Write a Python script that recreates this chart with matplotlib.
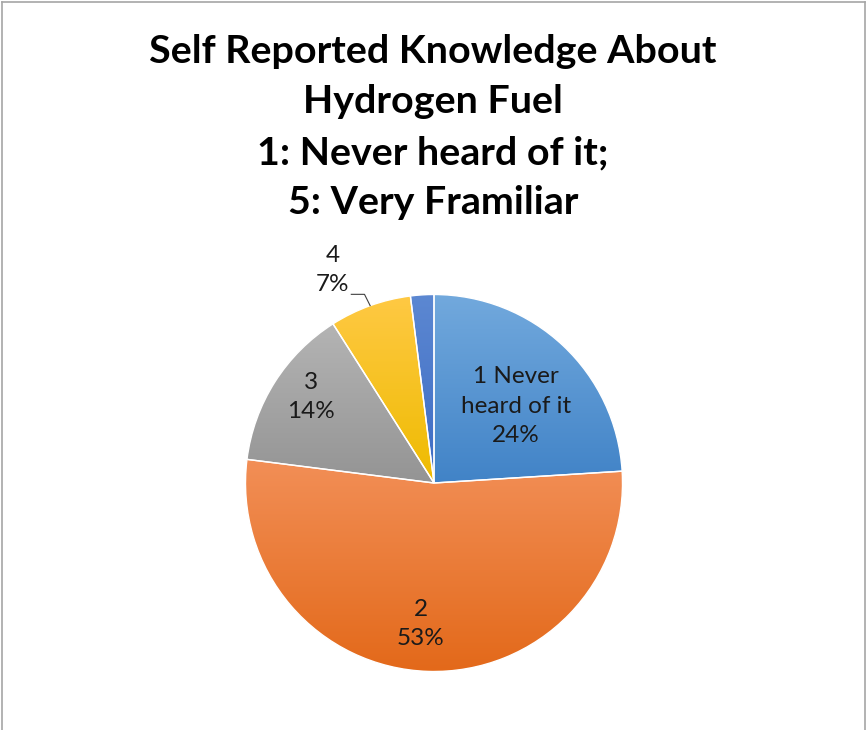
import numpy as np
import matplotlib
matplotlib.use("Agg")
import matplotlib.pyplot as plt
from matplotlib.colors import LinearSegmentedColormap
from matplotlib.lines import Line2D

plt.rcParams['font.family'] = ['Lato', 'DejaVu Sans']

title_lines = ["Self Reported Knowledge About", "Hydrogen Fuel",
               "1: Never heard of it;", "5: Very Framiliar"]
categories = ["1 Never\nheard of it", "2", "3", "4", "5"]
shares = [24, 53, 14, 7, 2]
show_label = [True, True, True, True, False]

# light (top) -> dark (bottom) gradient per slice
grad_top = ["#72A9DD", "#F28F57", "#B4B4B4", "#FFC944", "#5C88D2"]
grad_bottom = ["#4183C7", "#E3691A", "#949494", "#EEBB00", "#3D6BC3"]

# label centres in pie units (radius = 1)
label_pos = [(0.435, 0.408), (-0.069, -0.748), (-0.653, 0.456), (-0.536, 1.13), None]

W, H = 866, 730
fig = plt.figure(figsize=(W / 100, H / 100), dpi=100)

# pie box: x 245.5..622.5, y 294.5..671.5 (pixels from top)
ax = fig.add_axes([245.5 / W, (H - 671.5) / H, 377 / W, 377 / H])
wedges, _ = ax.pie(shares, startangle=90, counterclock=False, radius=1,
                   wedgeprops=dict(edgecolor="white", linewidth=1.0))

for w, c0, c1 in zip(wedges, grad_top, grad_bottom):
    bb = w.get_path().get_extents()
    cmap = LinearSegmentedColormap.from_list("g", [c0, c1])
    grad = np.linspace(0, 1, 256).reshape(-1, 1)
    im = ax.imshow(grad, cmap=cmap, extent=[bb.x0, bb.x1, bb.y0, bb.y1], origin="upper",
                   aspect="auto", interpolation="bilinear", zorder=w.get_zorder() - 0.1)
    im.set_clip_path(w)
    w.set_facecolor("none")

ax.set_xlim(-1, 1)
ax.set_ylim(-1, 1)
ax.set_aspect("equal")
ax.axis("off")

total = sum(shares)
for i, w in enumerate(wedges):
    if not show_label[i]:
        continue
    pct = round(100 * shares[i] / total)
    x, y = label_pos[i]
    ax.text(x, y, f"{categories[i]}\n{pct}%", ha="center", va="center",
            fontsize=17.5, color="#1a1a1a", linespacing=1.5, clip_on=False)

# leader line for the small slice labelled outside
w4 = wedges[3]
mid = np.deg2rad((w4.theta1 + w4.theta2) / 2)
p0 = np.array([np.cos(mid), np.sin(mid)])
elbow = p0 + np.array([-0.03, 0.06])
end = elbow + np.array([-0.07, 0.0])
ax.add_line(Line2D([p0[0], elbow[0], end[0]], [p0[1], elbow[1], end[1]],
                   color="#404040", lw=0.8, clip_on=False))

# title
for line, base in zip(title_lines, [63, 113, 164, 214]):
    fig.text(433 / W, 1 - base / H, line, ha="center", va="baseline",
             fontsize=28.4, fontweight="bold", color="black")

# chart frame
frame_kw = dict(color="#A6A6A6", lw=1.2, transform=fig.transFigure)
fig.add_artist(Line2D([1.5 / W, 1.5 / W], [0, 1 - 2 / H], **frame_kw))
fig.add_artist(Line2D([1.5 / W, 864.5 / W], [1 - 2 / H, 1 - 2 / H], **frame_kw))
fig.add_artist(Line2D([864.5 / W, 864.5 / W], [0, 1 - 2 / H], **frame_kw))

fig.savefig("out.png", dpi=100, facecolor="white")
